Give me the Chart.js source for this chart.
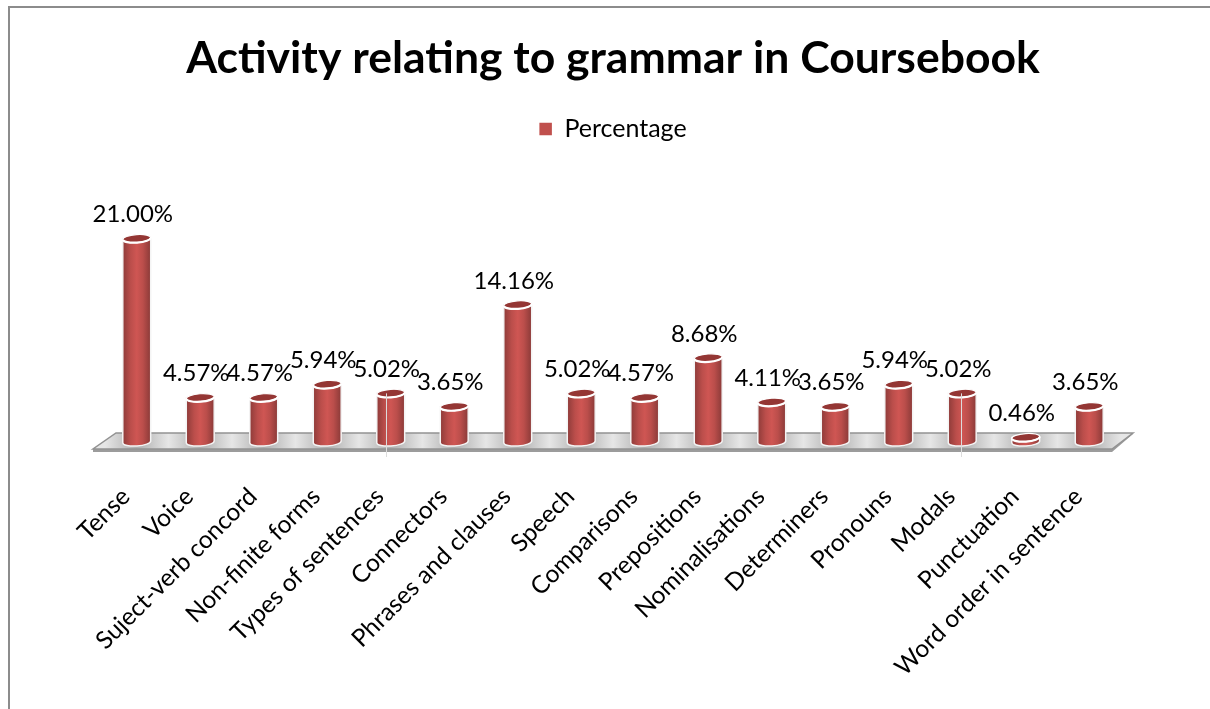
<!DOCTYPE html>
<html>
<head>
<meta charset="utf-8">
<title>Activity relating to grammar in Coursebook</title>
<script src="https://cdn.jsdelivr.net/npm/chart.js@4"></script>
<style>
  html, body { margin: 0; padding: 0; background: #fff; overflow: hidden; }
  #wrap { position: relative; width: 1210px; height: 709px; }
  #frame { position: absolute; left: 8px; top: 6px; right: -10px; bottom: -10px; border: 2px solid #8c8c8c; }
  canvas { position: absolute; left: 0; top: 0; }
</style>
</head>
<body>
<div id="wrap">
  <div id="frame"></div>
  <canvas id="grammarChart" width="1210" height="709"></canvas>
</div>
<script>
const categories = [
  "Tense", "Voice", "Suject-verb concord", "Non-finite forms", "Types of sentences",
  "Connectors", "Phrases and clauses", "Speech", "Comparisons", "Prepositions",
  "Nominalisations", "Determiners", "Pronouns", "Modals", "Punctuation", "Word order in sentence"
];
const percentages = [21.00, 4.57, 4.57, 5.94, 5.02, 3.65, 14.16, 5.02, 4.57, 8.68, 4.11, 3.65, 5.94, 5.02, 0.46, 3.65];
const seriesName = "Percentage";
const chartTitle = "Activity relating to grammar in Coursebook";

const FONT = "Lato, Carlito, 'Open Sans', sans-serif";

// grey plinth under the bars, lighter in the gaps between them
const floorPlugin = {
  id: "floor",
  beforeDatasetsDraw(chart) {
    const { ctx, scales: { x, y } } = chart;
    const base = y.getPixelForValue(0);
    const backY = base - 9, frontY = base + 7, edge = 3;
    const backL = x.left + 11, backR = x.right + 12;
    const frontL = x.left - 12, frontR = x.right - 9;

    const sheen = ctx.createLinearGradient(x.left, 0, x.right, 0);
    const stops = categories.length * 2;
    for (let i = 0; i <= stops; i++) {
      sheen.addColorStop(i / stops, i % 2 ? "#aeaeae" : "#e6e6e6");
    }
    ctx.save();
    ctx.fillStyle = "#9c9c9c";
    ctx.beginPath();
    ctx.moveTo(frontL, frontY);
    ctx.lineTo(frontR, frontY);
    ctx.lineTo(backR, backY);
    ctx.lineTo(backR, backY + 1);
    ctx.lineTo(frontR, frontY + edge);
    ctx.lineTo(frontL, frontY + edge);
    ctx.closePath();
    ctx.fill();

    ctx.fillStyle = sheen;
    ctx.strokeStyle = "#929292";
    ctx.lineWidth = 1.5;
    ctx.beginPath();
    ctx.moveTo(backL, backY);
    ctx.lineTo(backR, backY);
    ctx.lineTo(frontR, frontY);
    ctx.lineTo(frontL, frontY);
    ctx.closePath();
    ctx.fill();
    ctx.stroke();
    ctx.restore();
  }
};

// paints each bar element as a cylinder, then writes its value above it
const cylinderPlugin = {
  id: "cylinders",
  afterDatasetsDraw(chart) {
    const { ctx } = chart;
    const tilt = -0.07;
    chart.getDatasetMeta(0).data.forEach((bar, i) => {
      const left = bar.x - bar.width / 2, right = bar.x + bar.width / 2;
      const rx = bar.width / 2, ry = 4;
      const top = bar.y, base = bar.base;

      const body = ctx.createLinearGradient(left, 0, right, 0);
      body.addColorStop(0, "#8e3b39");
      body.addColorStop(0.28, "#bb4e4b");
      body.addColorStop(0.5, "#cf5653");
      body.addColorStop(0.72, "#bb4e4b");
      body.addColorStop(1, "#8a3a38");

      ctx.save();
      ctx.fillStyle = body;
      ctx.strokeStyle = "#f4f4f4";
      ctx.lineWidth = 1.5;
      ctx.beginPath();
      ctx.moveTo(left, top);
      ctx.lineTo(left, base);
      ctx.ellipse(bar.x, base, rx, ry, tilt, Math.PI, 0, true);
      ctx.lineTo(right, top);
      ctx.closePath();
      ctx.fill();
      ctx.stroke();

      ctx.fillStyle = "#943634";
      ctx.strokeStyle = "#ffffff";
      ctx.lineWidth = 1.2;
      ctx.beginPath();
      ctx.ellipse(bar.x, top, rx, ry, tilt, 0, Math.PI * 2);
      ctx.fill();
      ctx.stroke();
      // heavier rim on the near side of the cap
      ctx.lineWidth = 2.2;
      ctx.beginPath();
      ctx.ellipse(bar.x, top, rx, ry, tilt, 0, Math.PI);
      ctx.stroke();

      ctx.fillStyle = "#000000";
      ctx.font = "24px " + FONT;
      ctx.textAlign = "center";
      ctx.textBaseline = "middle";
      ctx.fillText(percentages[i].toFixed(2) + "%", bar.x - 4, top - 24);
      ctx.restore();
    });

    // thin pale seams crossing the Types of sentences and Modals bars
    const meta = chart.getDatasetMeta(0).data;
    [[meta[4], -4.5], [meta[13], -1.5]].forEach(([bar, dx]) => {
      ctx.save();
      ctx.strokeStyle = "#dcdcdc";
      ctx.lineWidth = 1;
      ctx.beginPath();
      ctx.moveTo(Math.round(bar.x + dx) + 0.5, bar.y);
      ctx.lineTo(Math.round(bar.x + dx) + 0.5, bar.base + 15);
      ctx.stroke();
      ctx.restore();
    });
  }
};

new Chart(document.getElementById("grammarChart"), {
  type: "bar",
  data: {
    labels: categories,
    datasets: [{
      label: seriesName,
      data: percentages,
      backgroundColor: "#C0504D",
      borderWidth: 0,
      categoryPercentage: 1,
      barPercentage: 0.44
    }]
  },
  plugins: [floorPlugin, cylinderPlugin],
  options: {
    responsive: false,
    animation: false,
    layout: { padding: { left: 105, right: 89, top: 0, bottom: 0 } },
    plugins: {
      title: {
        display: true,
        text: chartTitle,
        color: "#000000",
        font: { family: FONT, size: 44.5, weight: "bold" },
        padding: { top: 32, bottom: 23 }
      },
      legend: {
        display: true,
        position: "top",
        labels: {
          color: "#000000",
          font: { family: FONT, size: 25 },
          usePointStyle: true,
          pointStyle: "rect",
          boxWidth: 12.5,
          boxHeight: 12.5,
          padding: 8
        }
      },
      tooltip: { enabled: false }
    },
    scales: {
      y: { display: false, min: 0, max: 30 },
      x: {
        afterFit(scale) { scale.height = 267; },
        grid: { display: false },
        border: { display: false },
        ticks: {
          color: "#000000",
          font: { family: FONT, size: 24.5 },
          maxRotation: 45,
          minRotation: 45,
          autoSkip: false,
          labelOffset: -11,
          padding: 32
        }
      }
    }
  }
});
</script>
</body>
</html>
